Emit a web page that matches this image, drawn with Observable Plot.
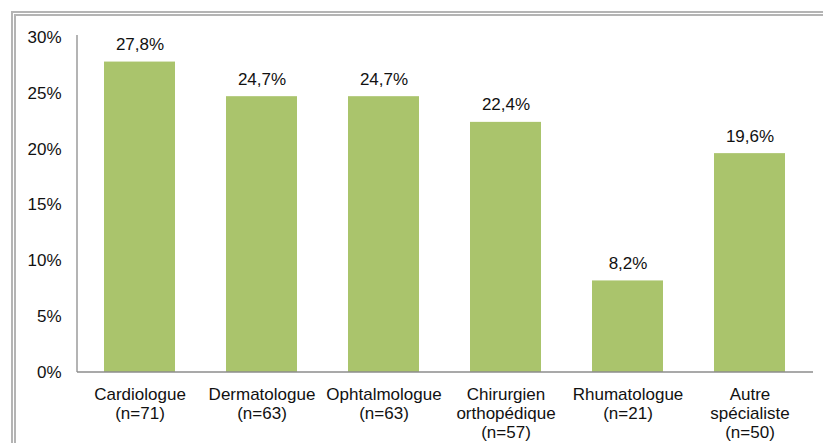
<!DOCTYPE html>
<html><head><meta charset="utf-8">
<script src="https://cdn.jsdelivr.net/npm/d3@7"></script>
<script src="https://cdn.jsdelivr.net/npm/@observablehq/plot@0.6"></script>
<style>
html,body{margin:0;padding:0;background:#fff;overflow:hidden;width:823px;height:443px;}
#frame{position:absolute;left:11px;top:11px;width:900px;height:600px;border:5px double #b4b4b4;box-sizing:border-box;}
#chart{position:absolute;left:0;top:0;}
svg{font-family:"Liberation Sans",Arial,sans-serif;}
</style></head>
<body>
<div id="frame"></div>
<div id="chart"></div>
<script>
const categories = ["Cardiologue", "Dermatologue", "Ophtalmologue", "Chirurgien", "Rhumatologue", "Autre"];
const labels = ["Cardiologue\n(n=71)", "Dermatologue\n(n=63)", "Ophtalmologue\n(n=63)", "Chirurgien\northopédique\n(n=57)", "Rhumatologue\n(n=21)", "Autre\nspécialiste\n(n=50)"];
const values = [27.8, 24.7, 24.7, 22.4, 8.2, 19.6];
const yTicks = [0, 5, 10, 15, 20, 25, 30];

const data = categories.map((c, i) => ({cat: c, label: labels[i], value: values[i]}));
const fmt = v => v.toFixed(1).replace(".", ",") + "%";

const W = 823, H = 443, mL = 77, mR = 12, mT = 37, mB = 71;

const axisLines = () => {
  const ns = "http://www.w3.org/2000/svg";
  const g = document.createElementNS(ns, "g");
  const l = document.createElementNS(ns, "line");
  l.setAttribute("x1", mL); l.setAttribute("x2", mL);
  l.setAttribute("y1", mT - 2); l.setAttribute("y2", H - mB);
  l.setAttribute("stroke", "#8c8c8c"); l.setAttribute("stroke-width", 1.3);
  const b = document.createElementNS(ns, "line");
  b.setAttribute("x1", mL); b.setAttribute("x2", W - mR + 2);
  b.setAttribute("y1", H - mB); b.setAttribute("y2", H - mB);
  b.setAttribute("stroke", "#8c8c8c"); b.setAttribute("stroke-width", 1.3);
  g.appendChild(l); g.appendChild(b);
  return g;
};

const chart = Plot.plot({
  width: W, height: H,
  marginLeft: mL, marginRight: mR, marginTop: mT, marginBottom: mB,
  style: {fontFamily: '"Liberation Sans", Arial, sans-serif', fontSize: "17px", color: "#111", background: "transparent"},
  x: {domain: categories, paddingInner: 0.42, paddingOuter: 0.2, axis: null},
  y: {domain: [0, 30], axis: null},
  marks: [
    Plot.barY(data, {x: "cat", y: "value", fill: "#aac46c"}),
    axisLines,
    Plot.axisY({ticks: yTicks, tickSize: 0, tickPadding: 16, tickFormat: d => d + "%", fontSize: 17, label: null}),
    Plot.text(data, {x: "cat", y: "value", text: d => fmt(d.value), lineAnchor: "bottom", dy: -12, fontSize: 17, fill: "#111"}),
    Plot.text(data, {x: "cat", text: "label", frameAnchor: "bottom", lineAnchor: "top", dy: 14, lineHeight: 1.12, fontSize: 17, fill: "#111"})
  ]
});
document.getElementById("chart").appendChild(chart);
</script>
</body></html>
